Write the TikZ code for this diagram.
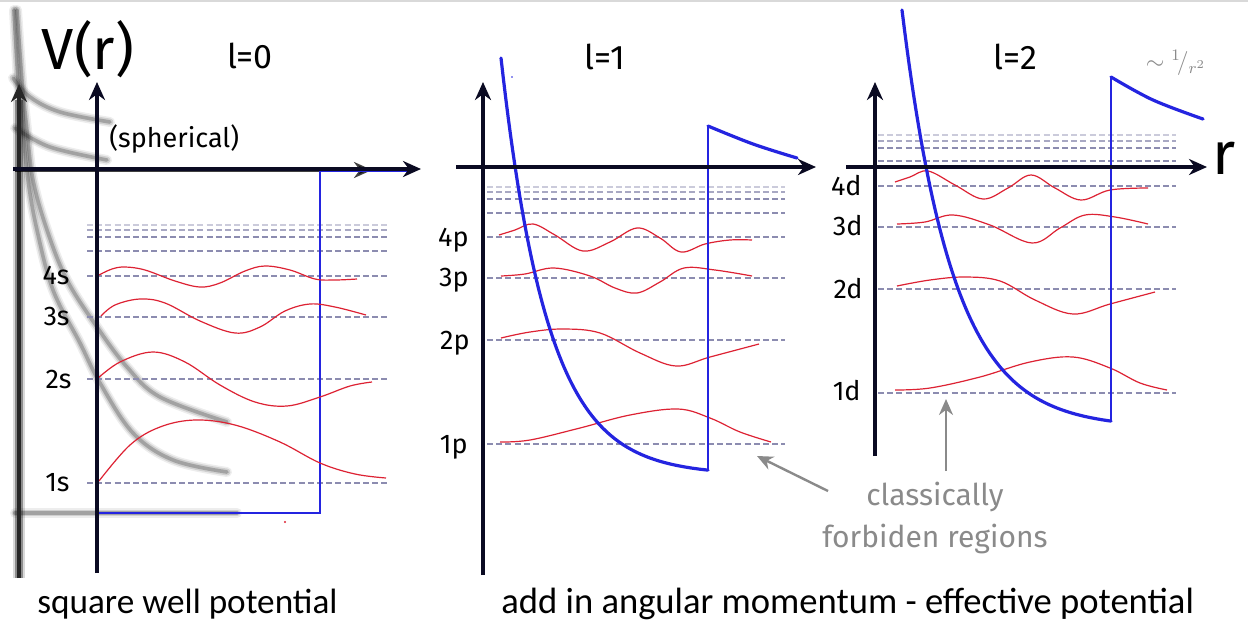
\documentclass[tikz,border=0pt]{standalone}
\usepackage{fontspec}
\setmainfont{Fira Sans}
\newfontfamily\botfont{Carlito}
\usetikzlibrary{arrows.meta}
\definecolor{axcol}{HTML}{0A0A22}
\definecolor{wellblue}{HTML}{2424E0}
\definecolor{wavered}{HTML}{DD2233}
\definecolor{dashcol}{HTML}{8C8CB0}
\definecolor{notegray}{HTML}{8A8A8A}
\tikzset{
  axisline/.style={line width=2pt, draw=axcol, -{Stealth[length=9pt,width=8pt]}},
  wellline/.style={draw=wellblue, line width=1.1pt},
  wellcurve/.style={draw=wellblue, line width=1.6pt, line cap=round},
  wave/.style={draw=wavered, line width=0.6pt},
  level/.style={draw=dashcol, line width=0.55pt, dash pattern=on 3pt off 1.6pt},
  levelfaint/.style={level, draw opacity=0.45},
  levelmid/.style={level, draw opacity=0.75},
  lbl/.style={font=\fontsize{13.5}{15}\selectfont, anchor=base east, inner sep=0pt, text=black},
  ttl/.style={font=\fontsize{17}{20}\selectfont, inner sep=0pt, text=black},
  note/.style={font=\fontsize{15}{17}\selectfont, text=notegray, inner sep=0pt, align=center},
  bottxt/.style={inner sep=0pt, anchor=west},
  ghA/.style={draw=black, draw opacity=0.07, line width=5pt, line cap=round},
  ghB/.style={draw=black, draw opacity=0.12, line width=3.4pt, line cap=round},
  ghC/.style={draw=black, draw opacity=0.22, line width=1.8pt, line cap=round},
  pointer/.style={draw=notegray, line width=1.2pt, -{Stealth[length=8pt,width=7pt]}},
}
\newcommand\ghostpath[1]{\draw[ghA] #1; \draw[ghB] #1; \draw[ghC] #1;}
\begin{document}
\begin{tikzpicture}[x=0.5pt,y=-0.5pt]
\useasboundingbox (0,0) rectangle (1248,622);
\fill[white] (0,0) rectangle (1248,622);
\draw[black!15, line width=0.6pt] (0,1) -- (1248,1);

%% ---------------- ghost sketch (panel 1) ----------------
\ghostpath{plot[smooth, tension=0.6] coordinates {(17,10) (22,80) (27,130) (33,180) (47,230) (67,280) (97,327) (127,367) (160,397) (227,422)}}
\ghostpath{plot[smooth, tension=0.6] coordinates {(14,10) (18,80) (23,130) (28,180) (37,230) (53,290) (80,343) (100,383) (133,433) (173,460) (227,472)}}
\ghostpath{plot[smooth, tension=0.6] coordinates {(13,78) (30,97) (60,112) (110,122)}}
\ghostpath{plot[smooth, tension=0.6] coordinates {(15,128) (50,147) (107,160)}}
\ghostpath{(15,513) -- (237,513)}
\draw[black, opacity=0.15, line width=6pt] (19,578) -- (19,100);
\draw[black, opacity=0.35, line width=4pt] (19,578) -- (19,100);
\draw[black!85, line width=2.2pt, -{Stealth[length=9pt,width=8pt]}] (19,578) -- (19,84);
\draw[black, opacity=0.75, line width=2.4pt, -{Stealth[length=9pt,width=8pt]}] (15,170) -- (372,170);

%% ---------------- panel 1 : l=0 ----------------
\coordinate (o1) at (97,573);
\coordinate (t1) at (97,82);
\coordinate (h1a) at (13,169);
\coordinate (h1b) at (421,169);
\draw[levelfaint] (87,225) -- (387,225);
\draw[levelmid] (87,230) -- (387,230);
\draw[level] (87,237) -- (387,237);
\draw[level] (87,251) -- (387,251);
\draw[level] (87,276) -- (387,276);
\draw[level] (87,317) -- (387,317);
\draw[level] (87,379) -- (387,379);
\draw[level] (87,483) -- (387,483);
\coordinate (w1a) at (97,513);
\coordinate (w1b) at (320,513);
\coordinate (w1c) at (320,171);
\coordinate (w1d) at (408,171);
\draw[wellline] (w1a) -- (w1b) -- (w1c) -- (w1d);
\fill[wavered] (285,522) circle (1.2);
\draw[wave] plot[smooth, tension=0.6] coordinates {(99,481) (130,445) (160,427) (195,420) (235,425) (280,442) (320,463) (355,474) (386,478)};
\draw[wave] plot[smooth, tension=0.6] coordinates {(97,379) (120,362) (153,352) (185,362) (220,385) (255,402) (287,406) (320,397) (350,386) (372,382)};
\draw[wave] plot[smooth, tension=0.6] coordinates {(101,316) (115,305) (140,299) (165,303) (200,321) (235,333) (260,327) (285,311) (310,304) (335,307) (366,315)};
\draw[wave] plot[smooth, tension=0.6] coordinates {(99,275) (112,269) (125,267) (145,270) (175,281) (200,287) (220,283) (245,271) (265,266) (290,270) (315,279) (335,280) (357,279)};
\draw[axisline] (o1) -- (t1);
\draw[axisline] (h1a) -- (h1b);
\node[lbl] (l4s) at (70,284) {4s};
\node[lbl] (l3s) at (70,325) {3s};
\node[lbl] (l2s) at (72,388) {2s};
\node[lbl] (l1s) at (70,491) {1s};
\node[font=\fontsize{29}{34}\selectfont, inner sep=0pt] (vr) at (88,49) {V(r)};
\node[ttl] (l0) at (250,56) {l=0};
\node[font=\fontsize{13.5}{16}\selectfont, anchor=west, inner sep=0pt] (sph) at (109,139) {(spherical)};

%% ---------------- panel 2 : l=1 ----------------
\coordinate (o2) at (483,575);
\coordinate (t2) at (483,82);
\coordinate (h2a) at (456,167);
\coordinate (h2b) at (816,167);
\draw[levelfaint] (487,187) -- (785,187);
\draw[levelmid] (487,192) -- (785,192);
\draw[level] (487,199) -- (785,199);
\draw[level] (487,213) -- (785,213);
\draw[level] (487,237) -- (785,237);
\draw[level] (487,278) -- (785,278);
\draw[level] (487,340) -- (785,340);
\draw[level] (487,444) -- (785,444);
\draw[wave] plot[smooth, tension=0.6] coordinates {(499,235) (515,230) (533,224) (555,235) (583,251) (610,242) (637,228) (660,238) (681,252) (705,244) (730,240) (752,240)};
\draw[wave] plot[smooth, tension=0.6] coordinates {(501,276) (525,274) (554,268) (590,276) (615,288) (637,293) (660,282) (684,268) (715,270) (752,276)};
\draw[wave] plot[smooth, tension=0.6] coordinates {(501,338) (530,332) (563,329) (600,333) (640,353) (676,366) (710,357) (759,344)};
\draw[wave] plot[smooth, tension=0.6] coordinates {(500,442) (530,440) (580,428) (630,415) (678,409) (710,418) (740,432) (771,442)};
\coordinate (c2a) at (708,470);
\coordinate (c2b) at (708,126);
\draw[wellcurve] plot[domain=501:708, samples=90] (\x,{475-417*exp(-(\x-501)/46.6)});
\draw[wellline] (c2a) -- (c2b);
\draw[wellcurve] plot[smooth, tension=0.6] coordinates {(708,126) (753,144) (797,158)};
\fill[wellblue] (512,77) circle (0.8);
\draw[axisline] (o2) -- (t2);
\draw[axisline] (h2a) -- (h2b);
\node[lbl] (l4p) at (469,246) {4p};
\node[lbl] (l3p) at (469,286) {3p};
\node[lbl] (l2p) at (470,349) {2p};
\node[lbl] (l1p) at (468,453) {1p};
\node[ttl] (l1) at (605,57) {l=1};

%% ---------------- panel 3 : l=2 ----------------
\coordinate (o3) at (875,456);
\coordinate (t3) at (875,82);
\coordinate (h3a) at (846,167);
\coordinate (h3b) at (1207,167);
\draw[levelfaint] (878,135) -- (1176,135);
\draw[levelmid] (878,141) -- (1176,141);
\draw[level] (878,148) -- (1176,148);
\draw[level] (878,161) -- (1176,161);
\draw[level] (878,186) -- (1176,186);
\draw[level] (878,227) -- (1176,227);
\draw[level] (878,289) -- (1176,289);
\draw[level] (878,393) -- (1176,393);
\draw[wave] plot[smooth, tension=0.6] coordinates {(895,182) (910,177) (928,171) (955,185) (983,199) (1008,188) (1031,175) (1055,188) (1081,200) (1110,190) (1148,188)};
\draw[wave] plot[smooth, tension=0.6] coordinates {(897,224) (925,222) (953,215) (990,225) (1032,243) (1060,228) (1085,215) (1115,217) (1148,224)};
\draw[wave] plot[smooth, tension=0.6] coordinates {(897,286) (930,280) (965,277) (1000,281) (1035,300) (1073,314) (1110,304) (1155,292)};
\draw[wave] plot[smooth, tension=0.6] coordinates {(895,390) (930,388) (980,377) (1030,362) (1073,357) (1110,368) (1140,383) (1167,390)};
\coordinate (c3a) at (1111,420);
\coordinate (c3b) at (1111,77);
\draw[wellcurve] plot[domain=902:1111, samples=90] (\x,{428-418*exp(-(\x-902)/51)});
\draw[wellline] (c3a) -- (c3b);
\draw[wellcurve] plot[smooth, tension=0.6] coordinates {(1111,77) (1153,100) (1203,119)};
\draw[axisline] (o3) -- (t3);
\draw[axisline] (h3a) -- (h3b);
\node[lbl] (l4d) at (862,195) {4d};
\node[lbl] (l3d) at (863,235) {3d};
\node[lbl] (l2d) at (863,298) {2d};
\node[lbl] (l1d) at (861,400) {1d};
\node[ttl] (l2) at (1015,57) {l=2};
\node[font=\fontsize{30}{34}\selectfont, inner sep=0pt, anchor=west] (rax) at (1212,158) {r};
\node[text=notegray, font=\fontsize{12}{14}\selectfont, inner sep=0pt] (inv) at (1176,63) {$\sim {}^{1}\!/_{r^2}$};

%% ---------------- annotations ----------------
\node[note] (cf) at (935,518) {classically\\[4pt]forbiden regions};
\coordinate (p1s) at (828,491);
\coordinate (p1e) at (757,456);
\coordinate (p2s) at (946,471);
\coordinate (p2e) at (946,399);
\draw[pointer] (p1s) -- (p1e);
\draw[pointer] (p2s) -- (p2e);

\node[bottxt, font=\botfont\fontsize{17.6}{20}\selectfont] (b1) at (37,604) {square well potential};
\node[bottxt, font=\botfont\fontsize{18.3}{20}\selectfont] (b2) at (501,604) {add in angular momentum - effective potential};
\end{tikzpicture}
\end{document}
